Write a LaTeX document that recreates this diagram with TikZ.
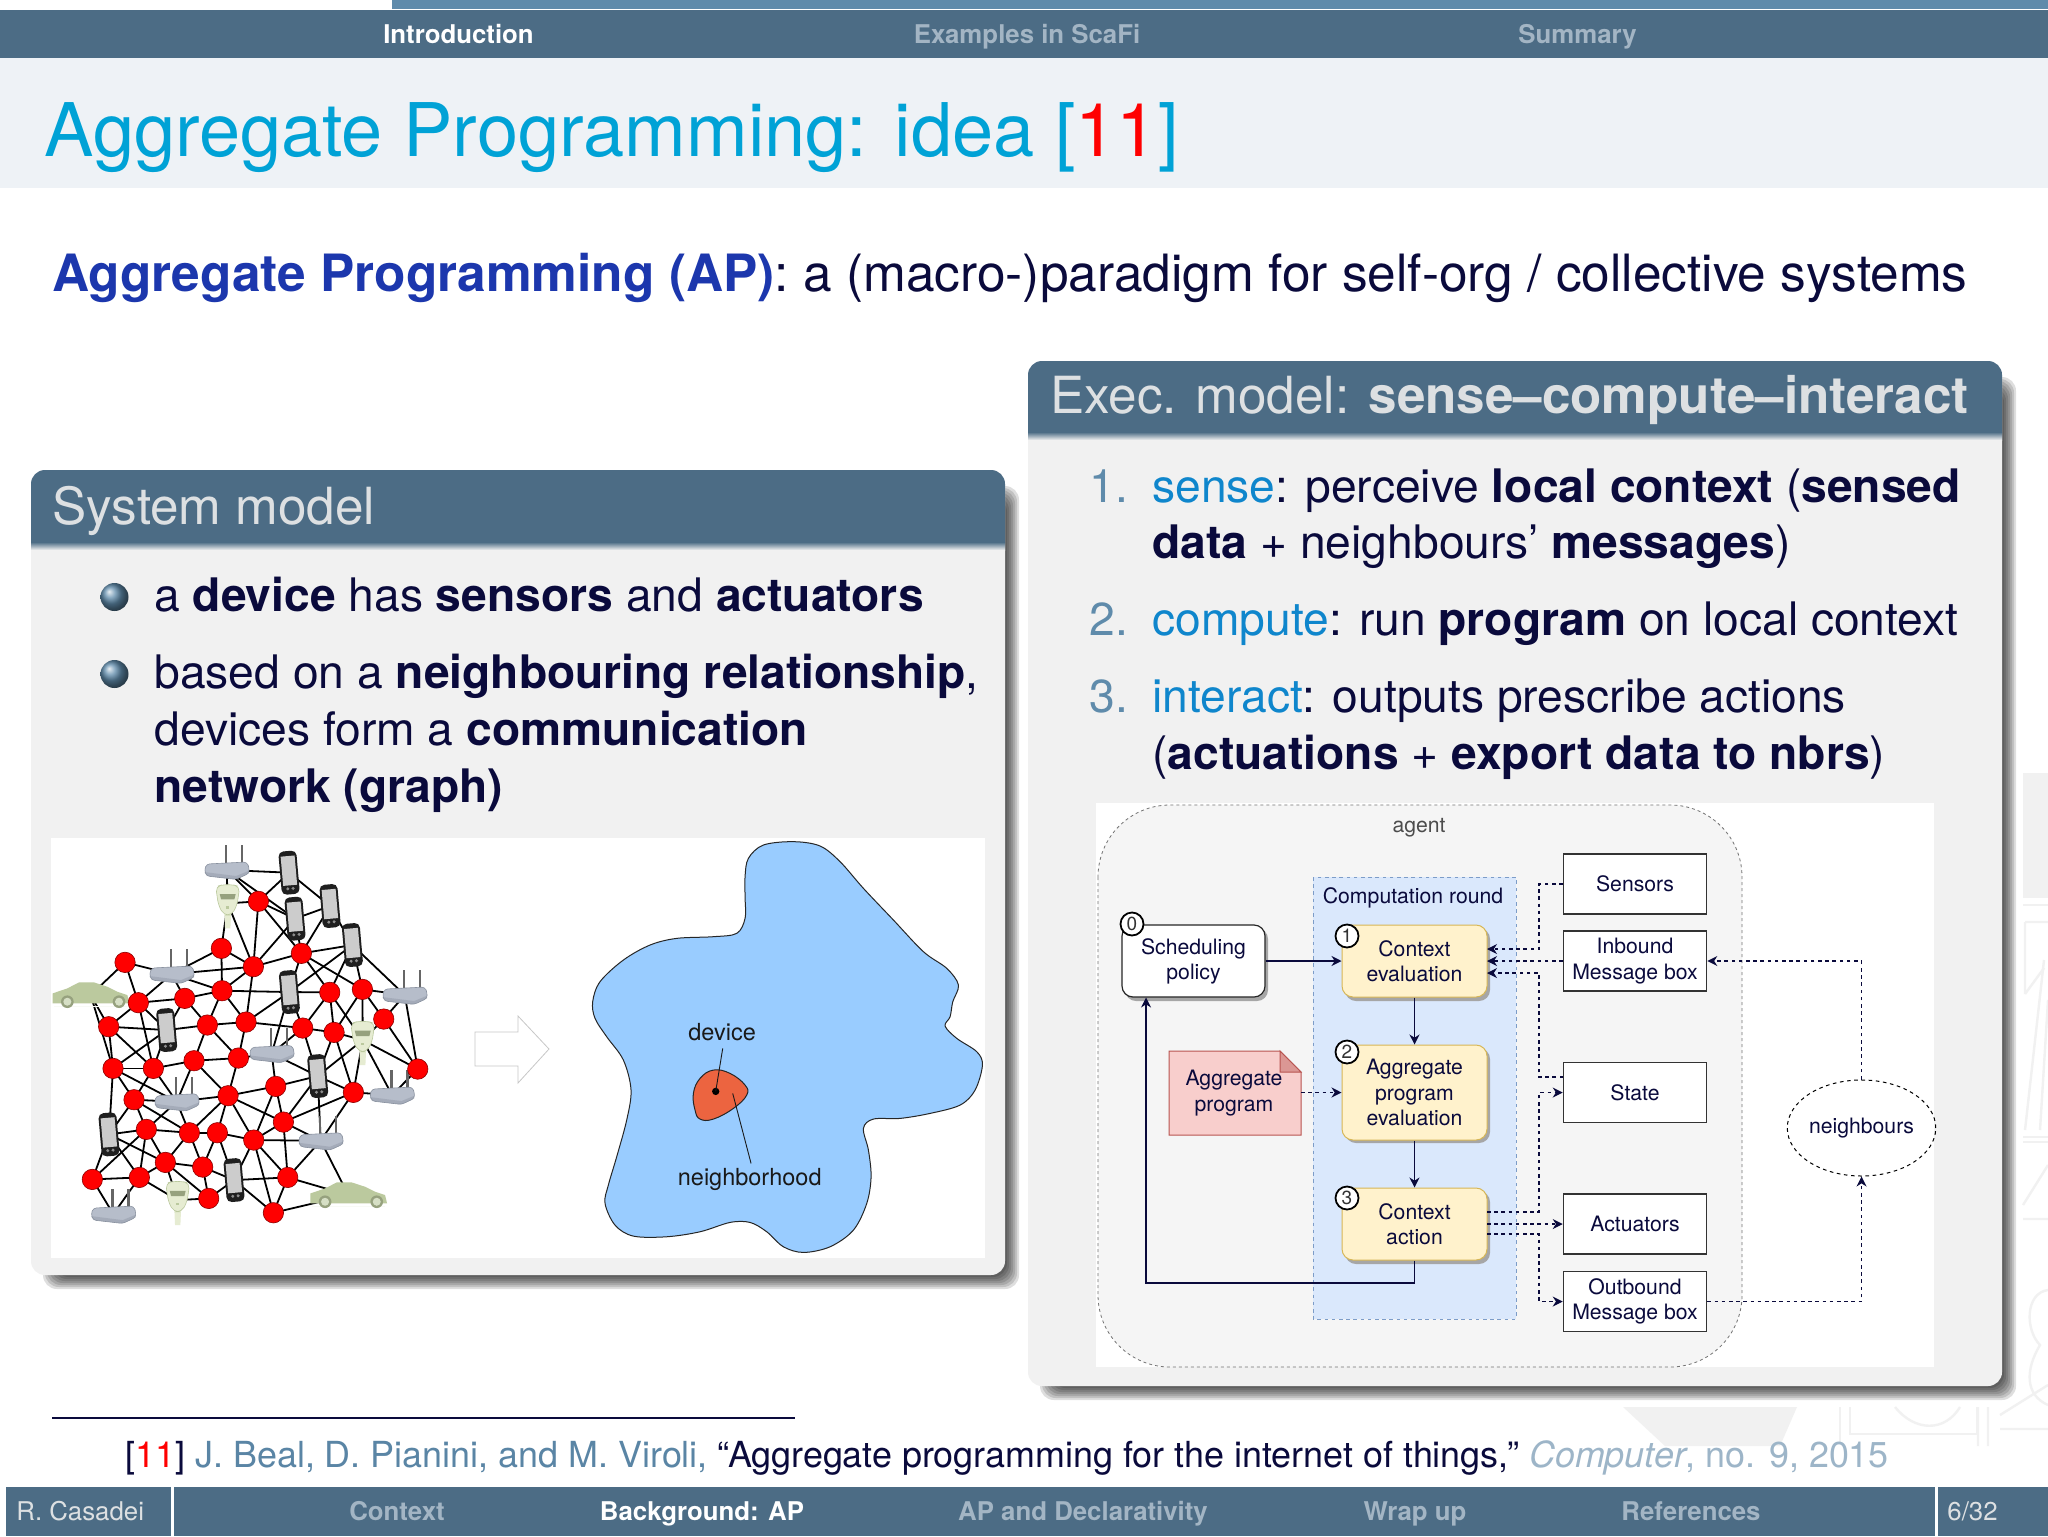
\documentclass[tikz,border=0pt]{standalone}
\usepackage{fontspec}
\setmainfont{TeX Gyre Heros}
\usetikzlibrary{arrows.meta,shapes.geometric}
\definecolor{barc}{HTML}{4C6C85}
\definecolor{stripc}{HTML}{5F8BAB}
\definecolor{titleband}{HTML}{EEF2F6}
\definecolor{titlec}{HTML}{00A2D6}
\definecolor{inkc}{HTML}{0A0A3C}
\definecolor{apblue}{HTML}{1C37AD}
\definecolor{navdim}{HTML}{A3B5C4}
\definecolor{panelc}{HTML}{F1F1F1}
\definecolor{headtxt}{HTML}{DDE0E2}
\definecolor{itemc}{HTML}{0F86CC}
\definecolor{numc}{HTML}{5F8BAB}
\definecolor{citeauth}{HTML}{5A85A5}
\definecolor{citejour}{HTML}{9DB5C8}
\definecolor{wmark}{HTML}{F1F1F1}
\definecolor{yellowf}{HTML}{FFF2CC}
\definecolor{yellowd}{HTML}{D6B656}
\definecolor{bluef}{HTML}{DAE8FC}
\definecolor{blued}{HTML}{7C9CC8}
\definecolor{pinkf}{HTML}{F8CECC}
\definecolor{pinkd}{HTML}{B85450}
\definecolor{agentf}{HTML}{F5F5F5}
\definecolor{blobc}{HTML}{99CCFF}
\definecolor{orangec}{HTML}{EC6440}
\definecolor{carc}{HTML}{BBC99E}
\definecolor{routerc}{HTML}{B6BDCA}
\definecolor{routerd}{HTML}{8A92A0}
\definecolor{meterc}{HTML}{E6ECD2}
\tikzset{
  headtext/.style={anchor=base west,inner sep=0pt,text=headtxt,font=\fontsize{25.6}{30}\selectfont},
  bodytext/.style={anchor=base west,inner sep=0pt,text=inkc,font=\fontsize{23.1}{28}\selectfont},
  numtext/.style={anchor=base west,inner sep=0pt,text=numc,font=\fontsize{23.1}{28}\selectfont},
  navon/.style={anchor=base,inner sep=0pt,text=white,font=\bfseries\fontsize{12.9}{15}\selectfont},
  navoff/.style={anchor=base,inner sep=0pt,text=navdim,font=\bfseries\fontsize{12.9}{15}\selectfont},
  ball/.style={circle,minimum size=14pt,inner sep=0pt,shade,ball color=stripc},
  figtxt/.style={align=center,text=inkc,inner sep=0pt,font=\fontsize{10.6}{12.6}\selectfont},
  yellowbox/.style={figtxt,draw=yellowd,fill=yellowf,rounded corners=5.5pt,line width=.5pt,minimum width=72.5pt},
  plainbox/.style={figtxt,draw=black!80,fill=white,line width=.6pt,minimum width=71.7pt,minimum height=30pt},
  badge/.style={circle,draw=black,fill=white,line width=.9pt,minimum size=11.5pt,inner sep=0pt,font=\fontsize{9.5}{10}\selectfont,text=black!80},
  solidar/.style={-{Stealth[length=5pt,width=5pt,inset=1.6pt]},draw=inkc,line width=.55pt},
  dashar/.style={-{Stealth[length=5pt,width=5pt,inset=1.6pt]},draw=inkc,line width=.55pt,dash pattern=on 1.8pt off 1.8pt},
  redc/.style={circle,draw=red!55!black,fill=red,line width=.3pt,minimum size=10.2pt,inner sep=0pt},
  netedge/.style={draw=black,line width=.9pt},
  devrouter/.pic={
    \fill[black!60] (-6,-75) rectangle (2,-15);
    \fill[black!60] (42,-75) rectangle (50,-15);
    \fill[routerc,draw=routerd,line width=.3pt,rounded corners=1.5pt] (-67,0) -- (-60,-18) -- (60,-24) -- (67,-8) -- (67,10) -- (28,28) -- (-60,18) -- cycle;
    \fill[routerd,opacity=.4] (-67,6) -- (28,18) -- (67,2) -- (67,10) -- (28,28) -- (-60,18) -- cycle;
  },
  devphone/.pic={
    \begin{scope}[rotate=5]
    \fill[black!88,rounded corners=2.5pt] (-27,-65) rectangle (27,65);
    \fill[black!20] (-21,-50) rectangle (21,38);
    \fill[black!45] (-8,48) circle[radius=5];
    \fill[black!45] (8,48) circle[radius=5];
    \end{scope}
  },
  devmeter/.pic={
    \fill[meterc] (-10,30) -- (10,30) -- (8,75) -- (-8,75) -- cycle;
    \fill[meterc,draw=carc,line width=.3pt,rounded corners=2.5pt] (-36,-50) -- (-15,-56) -- (15,-56) -- (36,-50) -- (28,5) -- (12,35) -- (-12,35) -- (-28,5) -- cycle;
    \fill[carc!80!black] (-24,-28) -- (24,-28) -- (20,-12) -- (-20,-12) -- cycle;
    \fill[carc] (-4,8) rectangle (4,16);
  },
  devcar/.pic={
    \fill[carc] (-114,25) -- (-114,-5) -- (-70,-20) -- (-35,-38) -- (10,-38) -- (50,-25) -- (80,-10) -- (110,0) -- (116,25) -- cycle;
    \fill[white!90!carc] (-110,32) -- (110,32) -- (110,35) -- (-110,35) -- cycle;
    \fill[carc!80!black] (-70,20) circle[radius=19];
    \fill[carc!60!white] (-70,20) circle[radius=12];
    \fill[carc!80!black] (85,20) circle[radius=19];
    \fill[carc!60!white] (85,20) circle[radius=12];
  }
}
\newcommand{\softshadow}[4]{%
  \foreach \i in {0,...,6}{
    \fill[black,opacity=.13,rounded corners=7pt]
      ({#1+12+2*\i},{#2+16+2*\i}) rectangle ({#3+14-2*\i},{#4+14-2*\i});
  }}
\newcommand{\panelbox}[5]{%
  \softshadow{#1}{#2}{#3}{#4}
  \fill[panelc,rounded corners=7pt] (#1,#2) rectangle (#3,#4);
  \begin{scope}
    \clip (#1,#2) rectangle (#3,#5);
    \fill[barc,rounded corners=7pt] (#1,#2) rectangle (#3,{#5+40});
  \end{scope}
  \shade[top color=barc,bottom color=panelc] (#1,#5) rectangle (#3,{#5+8});
}
\begin{document}
\begin{tikzpicture}[x=0.5pt,y=-0.5pt]
\useasboundingbox (0,0) rectangle (2048,1536);
\fill[white] (0,0) rectangle (2048,1536);

% watermark
\begin{scope}[wmark,line width=1.2pt]
  \fill (2023,773) rectangle (2048,898);
  \draw (2023,905) -- (2048,905);
  \draw (2025,922) -- (2048,922) (2025,922) -- (2025,994) (2025,994) -- (2044,968);
  \draw (2044,960) -- (2025,1130) (2048,1000) -- (2040,1130);
  \draw (2023,1137) -- (2048,1137) (2023,1142) -- (2048,1142);
  \draw (2023,1205) -- (2048,1165) (2023,1219) -- (2048,1219);
  \draw (2048,1290) .. controls (2025,1293) and (2025,1330) .. (2040,1345) .. controls (2025,1370) and (2025,1395) .. (2048,1405);
  \fill (1623,1407) -- (1797,1407) -- (1780,1446) -- (1665,1446) -- cycle;
  \draw (1840,1407) -- (1840,1443) (1850,1407) -- (1850,1434) -- (1977,1434) -- (1977,1407);
  \draw (1895,1407) .. controls (1915,1432) and (1945,1432) .. (1960,1407);
  \draw (1978,1407) -- (1978,1446) (1988,1407) -- (1988,1446) (2000,1429) -- (2048,1429) (2000,1415) -- (2048,1385);
\end{scope}

% top bars
\fill[stripc] (392,0) rectangle (2048,9);
\fill[barc] (0,10) rectangle (2048,58);
\fill[titleband] (0,58) rectangle (2048,188);
\node[navon] (navintro) at (458.5,44) {Introduction};
\node[navoff] (navex) at (1027,44) {Examples in ScaFi};
\node[navoff] (navsum) at (1577.5,44) {Summary};
\node[anchor=base west,inner sep=0pt,text=titlec,font=\fontsize{37}{44}\selectfont] (title) at (44,156) {Aggregate Programming: idea [\textcolor{red}{11}]};

\node[anchor=base west,inner sep=0pt,text=inkc,font=\fontsize{25.7}{30}\selectfont] (apline) at (52,291) {\textcolor{apblue}{\textbf{Aggregate Programming (AP)}}: a (macro-)paradigm for self-org / collective systems};

% System model panel
\panelbox{31}{470}{1005}{1275}{542}
\node[headtext] (systitle) at (52,524) {System model};
\node[ball] (b1) at (114.5,597) {};
\node[ball] (b2) at (114.5,674) {};
\node[bodytext] (s1) at (154,611) {a \textbf{device} has \textbf{sensors} and \textbf{actuators}};
\node[bodytext] (s2) at (154,688) {based on a \textbf{neighbouring relationship},};
\node[bodytext] (s3) at (154,745) {devices form a \textbf{communication}};
\node[bodytext] (s4) at (154,802) {\textbf{network (graph)}};
\fill[white] (51,838) rectangle (985,1258);

% Network
\begin{scope}[shift={(0,820)},x=0.1667pt,y=-0.1667pt]
\foreach \n/\x/\y in {1/375/427,2/415/548,3/326/620,4/339/745,5/460/745,6/402/839,7/439/928,8/277/1078,9/418/1072,10/496/1027,11/568/938,12/652/938,13/608/1041,14/626/1135,15/761/960,16/863/1072,17/820/1178,18/850/906,19/684/827,20/827/799,21/715/714,22/582/722,23/622/615,24/738/606,25/554/535,26/666/512,27/664/385,28/760/440,29/775/244,30/904/400,31/989/517,32/1087/508,33/1151/597,34/908/624,35/1002/637,36/1060/817,37/1253/747}
  {\coordinate (r\n) at (\x,\y);}
\coordinate (R1) at (680,150);\coordinate (R2) at (515,462);\coordinate (R3) at (1214,525);\coordinate (R4) at (815,700);
\coordinate (R5) at (530,845);\coordinate (R6) at (1176,825);\coordinate (R7) at (962,962);\coordinate (R8) at (340,1182);
\coordinate (P1) at (867,158);\coordinate (P2) at (990,258);\coordinate (P3) at (885,296);\coordinate (P4) at (1057,375);
\coordinate (P5) at (868,516);\coordinate (P6) at (500,630);\coordinate (P7) at (953,768);\coordinate (P8) at (327,943);\coordinate (P9) at (702,1080);
\coordinate (M1) at (683,250);\coordinate (M2) at (1088,660);\coordinate (M3) at (533,1140);
\coordinate (C1) at (272,525);\coordinate (C2) at (1045,1125);
\foreach \a/\b in {R1/P1,R1/r29,R1/P3,R1/M1,P1/r29,r29/P3,P3/P2,P1/P2,P2/r30,P3/r30,P3/r28,r29/r28,r29/r30,M1/r29,M1/r27,M1/r28,r27/r28,r27/R2,r27/r26,R2/r1,r1/C1,r1/r2,r2/C1,R2/r2,R2/r28,R2/r25,R2/r26,r2/r25,r25/r26,r26/r28,r28/r30,r28/r24,r26/P5,r26/r23,r26/r24,r25/r23,r25/P6,r2/r3,r2/r5,r2/P6,r3/C1,r4/C1,r3/r4,r3/P6,r3/r5,r4/r5,r4/P6,r5/P6,r5/r22,r23/P6,r23/r24,r23/r22,r23/r21,r24/r21,r24/P5,r24/r34,r22/r21,r22/r19,r22/R5,r5/R5,r4/r6,r4/R5,r4/P8,r5/r6,r6/r7,r6/R5,r6/r11,r7/r11,r7/R5,r7/P8,r7/r8,r7/r9,r7/r10,P8/r8,P8/r9,P8/r6,P8/r10,r8/r9,r8/R8,r9/R8,r9/r10,r9/M3,r10/r11,r10/r13,r10/r14,r11/r19,r11/r12,r11/R5,r11/r13,r12/r19,r12/r13,r12/r15,r12/P9,r13/r14,r13/P9,r14/P9,r14/M3,r10/M3,r15/P9,r15/r19,r15/r18,r15/r16,r15/r17,r15/R7,r16/P9,r16/r17,r16/r18,r16/R7,r16/C2,r17/C2,r17/P9,r18/r19,r18/r20,r18/r36,r18/P7,r18/R7,r19/r20,r19/r21,r19/R5,r20/R4,r20/P7,r20/r15,r21/R4,R4/P5,R4/r34,R4/P7,R7/P7,R7/r36,R7/C2,P5/r30,P5/r34,P5/r31,P5/P4,r30/P4,r30/r31,r30/r32,P4/r31,P4/r32,P4/R3,P4/P2,r31/r34,r31/r35,r31/M2,r32/R3,r32/r33,r32/r35,r32/M2,r33/R3,r33/r37,R3/r37,r33/M2,r34/r35,r34/P7,r35/M2,r35/r36,r35/P7,M2/P7,M2/r36,M2/r37,M2/R6,r36/P7,r36/R6,R6/r37}
  {\draw[netedge] (\a) -- (\b);}
\foreach \d in {R1,R2,R3,R4,R5,R6,R7,R8} {\pic at (\d) {devrouter};}
\foreach \d in {P1,P2,P3,P4,P5,P6,P7,P8,P9} {\pic at (\d) {devphone};}
\foreach \d in {M1,M2,M3} {\pic at (\d) {devmeter};}
\foreach \d in {C1,C2} {\pic at (\d) {devcar};}
\foreach \n in {1,...,37} {\node[redc] (c\n) at (r\n) {};}
\end{scope}

% hollow arrow
\draw[draw=black!22,fill=white,line width=.4pt] (475,1032) -- (518,1032) -- (518,1016) -- (549,1049) -- (518,1083) -- (518,1066) -- (475,1066) -- cycle;

% Blob
\begin{scope}[shift={(500,820)},x=0.1667pt,y=-0.1667pt]
\draw[fill=blobc,draw=black!85,line width=.5pt] plot[smooth cycle,tension=.55] coordinates {(735,170)(745,115)(790,75)(880,65)(960,78)(1020,125)(1090,205)(1180,300)(1270,395)(1340,445)(1375,495)(1358,545)(1350,590)(1335,618)(1370,655)(1430,695)(1447,735)(1425,810)(1380,855)(1290,880)(1200,895)(1120,897)(1090,925)(1105,990)(1113,1070)(1100,1150)(1060,1230)(990,1280)(910,1297)(850,1280)(800,1235)(750,1207)(690,1207)(600,1235)(500,1250)(400,1248)(345,1215)(315,1150)(325,1095)(350,1010)(380,900)(393,810)(370,720)(320,650)(285,595)(278,545)(300,485)(370,420)(450,375)(530,355)(640,350)(710,340)(735,295)(735,230)};
\draw[fill=orangec,draw=black!85,line width=.5pt] plot[smooth cycle,tension=.7] coordinates {(580,820)(600,775)(640,750)(690,760)(735,795)(740,825)(700,865)(640,897)(600,897)(585,870)};
\fill[black] (647,814) circle[radius=11];
\node[inner sep=0pt,text=black!90,font=\fontsize{11.75}{14}\selectfont] (devlab) at (666,637) {device};
\node[inner sep=0pt,text=black!90,font=\fontsize{11.75}{14}\selectfont] (nblab) at (749,1078) {neighborhood};
\coordinate (devdot) at (647,814);
\coordinate (nbin) at (698,820);
\draw[black!90,line width=.45pt] (668,685) -- (devdot);
\draw[black!90,line width=.45pt] (nbin) -- (753,1030);
\end{scope}

% Exec panel
\panelbox{1028}{361}{2002}{1386}{432}
\node[headtext] (exectitle) at (1050,413) {Exec. model: \textbf{sense–compute–interact}};
\node[numtext] (n1) at (1089,502) {1.};
\node[numtext] (n2) at (1089,635) {2.};
\node[numtext] (n3) at (1089,712) {3.};
\node[bodytext] (e1) at (1152,502) {\textcolor{itemc}{sense}: perceive \textbf{local context} (\textbf{sensed}};
\node[bodytext] (e2) at (1152,558) {\textbf{data} + neighbours’ \textbf{messages})};
\node[bodytext] (e3) at (1152,635) {\textcolor{itemc}{compute}: run \textbf{program} on local context};
\node[bodytext] (e4) at (1152,712) {\textcolor{itemc}{interact}: outputs prescribe actions};
\node[bodytext] (e5) at (1152,769) {(\textbf{actuations} + \textbf{export data to nbrs})};
\fill[white] (1096,803) rectangle (1934,1367);

% Flow diagram
\draw[fill=agentf,draw=black!55,line width=.4pt,dash pattern=on 1.5pt off 1.5pt,rounded corners=36pt] (1098,805) rectangle (1742,1367);
\node[inner sep=0pt,text=black!70,font=\fontsize{10.6}{12}\selectfont] (agent) at (1419,828) {agent};
\draw[fill=bluef,draw=blued,line width=.4pt,dash pattern=on 1.8pt off 1.8pt] (1313,877) rectangle (1516,1319);
\node[figtxt] (round) at (1413,898) {Computation round};

\foreach \xa/\ya/\xb/\yb in {1345/928/1490/1001,1345/1048/1490/1143,1345/1191/1490/1264,1125/928/1268/1001}
  {\fill[black!35,rounded corners=5.5pt] (\xa,\ya) rectangle (\xb,\yb);}
\node[yellowbox,minimum height=36pt] (ce) at (1414.5,961) {Context\\evaluation};
\node[yellowbox,minimum height=47.5pt] (ae) at (1414.5,1092.5) {Aggregate\\program\\evaluation};
\node[yellowbox,minimum height=36pt] (ca) at (1414.5,1224) {Context\\action};
\node[figtxt,draw=black!85,fill=white,rounded corners=5.5pt,line width=.6pt,minimum width=71.5pt,minimum height=36pt] (sp) at (1193.5,961) {Scheduling\\policy};
\node[badge] (b0) at (1132,924) {0};
\node[badge] (bb1) at (1347,936) {1};
\node[badge] (bb2) at (1347,1052) {2};
\node[badge] (bb3) at (1347,1198) {3};

\draw[fill=pinkf,draw=pinkd,line width=.5pt] (1169,1051) -- (1280,1051) -- (1301,1072) -- (1301,1135) -- (1169,1135) -- cycle;
\draw[fill=pinkd!45!pinkf,draw=pinkd,line width=.5pt] (1280,1051) -- (1301,1072) -- (1280,1072) -- cycle;
\node[figtxt] (prog) at (1234,1093) {Aggregate\\program};
\coordinate (progr) at (1301,1092.5);

\node[plainbox] (sensors) at (1635,884) {Sensors};
\node[plainbox] (inbox) at (1635,961) {Inbound\\Message box};
\node[plainbox] (state) at (1635,1092.5) {State};
\node[plainbox] (act) at (1635,1224) {Actuators};
\node[plainbox] (outbox) at (1635,1301.5) {Outbound\\Message box};
\node[figtxt,ellipse,draw=black,line width=.5pt,dash pattern=on 1.8pt off 1.8pt,minimum width=71.5pt,minimum height=48pt] (nb) at (1861.5,1128) {neighbours};

\coordinate (cein1) at (1487,949);\coordinate (cein2) at (1487,961);\coordinate (cein3) at (1487,973);
\coordinate (caout1) at (1487,1212);\coordinate (caout2) at (1487,1224);\coordinate (caout3) at (1487,1234);
\coordinate (stout) at (1563.2,1077);
\draw[solidar] (sp.east) -- (ce.west);
\draw[solidar] (ce.south) -- (ae.north);
\draw[solidar] (ae.south) -- (ca.north);
\draw[solidar] (ca.south) -- (1414.5,1283) -- (1146,1283) -- (1146,997.5);
\draw[dashar] (progr) -- (ae.west);
\draw[dashar] (sensors.west) -- (1539,884) -- (1539,949) -- (cein1);
\draw[dashar] (inbox.west) -- (cein2);
\draw[dashar] (stout) -- (1539,1077) -- (1539,973) -- (cein3);
\draw[dashar] (caout1) -- (1539,1212) -- (1539,1092.5) -- (state.west);
\draw[dashar] (caout2) -- (act.west);
\draw[dashar] (caout3) -- (1539,1234) -- (1539,1301.5) -- (outbox.west);
\draw[dashar] (nb.north) -- (1861.5,961) -- (inbox.east);
\draw[dashar] (outbox.east) -- (1861.5,1301.5) -- (nb.south);

% citation
\draw[inkc,line width=1pt] (52,1418) -- (795,1418);
\node[anchor=base west,inner sep=0pt,text=inkc,font=\fontsize{17.95}{22}\selectfont] (cite) at (125,1467) {[\textcolor{red}{11}] \textcolor{citeauth}{J. Beal, D. Pianini, and M. Viroli,} “Aggregate programming for the internet of things,” \textcolor{citejour}{\textit{Computer}, no. 9, 2015}};

% footer
\fill[barc] (6,1487) rectangle (2048,1536);
\fill[white] (171,1487) rectangle (174,1536);
\fill[white] (1935,1487) rectangle (1938,1536);
\node[anchor=base west,inner sep=0pt,text=headtxt,font=\fontsize{12.9}{15}\selectfont] (author) at (16,1520) {R. Casadei};
\node[navoff] (f1) at (397,1520) {Context};
\node[navon] (f2) at (702,1520) {Background: AP};
\node[navoff] (f3) at (1083,1520) {AP and Declarativity};
\node[navoff] (f4) at (1415,1520) {Wrap up};
\node[navoff] (f5) at (1691,1520) {References};
\node[anchor=base west,inner sep=0pt,text=headtxt,font=\fontsize{12.9}{15}\selectfont] (pagen) at (1947,1520) {6/32};
\end{tikzpicture}
\end{document}
